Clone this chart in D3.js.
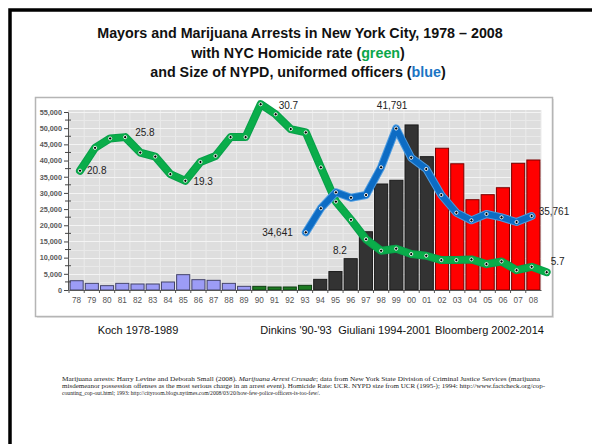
<!DOCTYPE html>
<html><head><meta charset="utf-8">
<script src="https://cdn.jsdelivr.net/npm/d3@7"></script>
<style>body{margin:0;background:#fff}svg{display:block}</style>
</head><body>
<svg id="c" width="592" height="444"></svg>
<script>
// ---- data ----
const years = ["78","79","80","81","82","83","84","85","86","87","88","89","90","91","92","93","94","95","96","97","98","99","00","01","02","03","04","05","06","07","08"];
const arrests = [2870,2060,1340,2060,1850,1850,2470,4740,3190,2990,2060,1130,1130,930,930,1440,3290,5700,9680,18000,32750,33900,51000,41200,43800,39000,27900,29450,31600,39150,40170];
const mayorNames = ["Koch 1978-1989","Dinkins '90-'93","Giuliani 1994-2001","Bloomberg 2002-2014"];
const mayorFirstYear = ["78","90","94","02"];
const homicideYears = d3.range(1978, 2010);
const homicide = [20.8,24.2,25.6,25.8,23.5,22.9,20.3,19.3,22.1,23.0,25.8,25.8,30.7,29.2,27.0,26.5,21.3,16.2,13.5,10.6,8.9,9.2,8.4,8.15,7.5,7.5,7.6,6.9,7.3,6.0,6.5,5.7];
const nypdYears = d3.range(1993, 2009);
const nypd = [34641,36294,37396,37024,37210,39118,41791,39779,39001,37210,35991,35467,35901,35674,35350,35761];
const yTicks = d3.range(0, 55001, 5000);
const annotations = [
  {text:"20.8", s:"h", year:1978, dx:7, dy:3.5, anchor:"start"},
  {text:"25.8", s:"h", year:1981, dx:10, dy:-1, anchor:"start"},
  {text:"19.3", s:"h", year:1985, dx:8, dy:4.5, anchor:"start"},
  {text:"30.7", s:"h", year:1990, dx:18, dy:4.5, anchor:"start"},
  {text:"8.2",  s:"h", year:1995, dx:4, dy:52, anchor:"middle"},
  {text:"34,641", s:"p", year:1993, dx:-13, dy:3.5, anchor:"end"},
  {text:"41,791", s:"p", year:1999, dx:-4, dy:-19, anchor:"middle"},
  {text:"35,761", s:"p", year:2008, dx:7, dy:-1.5, anchor:"start"},
  {text:"5.7", s:"h", year:2009, dx:4, dy:-7.5, anchor:"start"}
];
const footnote = [
  [{t:"Marijuana arrests: Harry Levine and Deborah Small (2008). "},{t:"Marijuana Arrest Crusade",i:true},{t:"; data from New York State Division of Criminal Justice Services (marijuana"}],
  [{t:"misdemeanor possession offenses as the most serious charge in an arrest event). Homicide Rate: UCR. NYPD size from UCR (1995-); 1994: http://www.factcheck.org/cop-"}],
  [{t:"counting_cop-out.html; 1993: http://cityroom.blogs.nytimes.com/2008/03/20/how-few-police-officers-is-too-few/."}]
];

// ---- styles ----
const mayorFill = ["#9c9cf6","#1d7a22","#333333","#ff0000"];
const mayorStroke = ["#44446a","#0f3d12","#1a1a1a","#7a0000"];
const svg = d3.select("#c");
const sans = "'Liberation Sans', Arial, sans-serif";

// outer frame
svg.append("path").attr("d","M10,444 L10,10 L592,10").attr("fill","none").attr("stroke","#000").attr("stroke-width",3.5);

// title
const title = svg.append("g").attr("font-family",sans).attr("font-weight","bold").attr("font-size",14.3).attr("text-anchor","middle").attr("fill","#111");
title.append("text").attr("x",300).attr("y",38).text("Mayors and Marijuana Arrests in New York City, 1978 \u2013 2008");
const t2 = title.append("text").attr("x",298).attr("y",57.5);
t2.append("tspan").text("with NYC Homicide rate (");
t2.append("tspan").attr("fill","#0aa64a").text("green");
t2.append("tspan").text(")");
const t3 = title.append("text").attr("x",298).attr("y",77);
t3.append("tspan").text("and Size of NYPD, uniformed officers (");
t3.append("tspan").attr("fill","#1b75c4").text("blue");
t3.append("tspan").text(")");

// panel
svg.append("rect").attr("x",37).attr("y",99).attr("width",517).attr("height",219).attr("fill","#e6e6e6");
svg.append("rect").attr("x",35.5).attr("y",97.5).attr("width",517).attr("height",219).attr("fill","#fff").attr("stroke","#b5b5b5").attr("stroke-width",1.5);

// scales
const x = d3.scaleBand().domain(years).range([69,541]).paddingInner(0.14).paddingOuter(0.07);
const y = d3.scaleLinear().domain([0,55000]).range([290,112]);
const xl = d3.scaleLinear().domain([1978,2009]).range([80,546.7]);
const yh = d3.scaleLinear().domain([0,35]).range([310.5,75.3]);
const yp = d3.scaleLinear().domain([30000,45000]).range([299.7,81.9]);

// plot background
svg.append("rect").attr("x",68).attr("y",110).attr("width",473).attr("height",180).attr("fill","#dedede");
// vertical grid
const step = x.step();
svg.append("g").selectAll("line").data(years).join("line")
  .attr("x1",d=>x(d)+x.bandwidth()+step*0.07).attr("x2",d=>x(d)+x.bandwidth()+step*0.07)
  .attr("y1",110).attr("y2",290).attr("stroke","#ebebeb").attr("stroke-width",1);
// horizontal grid
svg.append("g").selectAll("line").data(d3.range(2500,55001,2500)).join("line")
  .attr("x1",68).attr("x2",541).attr("y1",d=>Math.round(y(d))+0.5).attr("y2",d=>Math.round(y(d))+0.5)
  .attr("stroke",(d)=>d%5000===0?"#f4f4f4":"#e9e9e9").attr("stroke-width",1.2);

// bars
const mayorIdx = i => { let m=0; mayorFirstYear.forEach((f,k)=>{ if (years.indexOf(f)<=i) m=k; }); return m; };
svg.append("g").selectAll("rect").data(arrests).join("rect")
  .attr("x",(d,i)=>x(years[i])).attr("width",x.bandwidth())
  .attr("y",d=>y(d)).attr("height",d=>y(0)-y(d))
  .attr("fill",(d,i)=>mayorFill[mayorIdx(i)]).attr("stroke",(d,i)=>mayorStroke[mayorIdx(i)]).attr("stroke-width",1);

// y axis
const yAxisG = svg.append("g").attr("transform","translate(68,0)");
yAxisG.call(d3.axisLeft(y).tickValues(yTicks).tickFormat(d3.format(",")).tickSize(4).tickPadding(2));
yAxisG.selectAll("text").attr("font-family",sans).attr("font-size",7.3).attr("font-weight","bold").attr("fill","#5a5a5a");
yAxisG.select(".domain").attr("stroke","#555");
yAxisG.selectAll(".tick line").attr("stroke","#444");
svg.append("g").selectAll("line").data(d3.range(2500,55001,5000)).join("line")
  .attr("x1",65).attr("x2",71).attr("y1",d=>y(d)).attr("y2",d=>y(d)).attr("stroke","#444");

// x axis
const xAxisG = svg.append("g").attr("transform","translate(0,290)");
xAxisG.call(d3.axisBottom(x).tickSize(0).tickPadding(7));
xAxisG.select(".domain").attr("stroke","#555");
xAxisG.selectAll("text").attr("font-family",sans).attr("font-size",8.2).attr("fill","#555");
svg.append("g").selectAll("line").data(years).join("line")
  .attr("x1",d=>x(d)-step*0.07).attr("x2",d=>x(d)-step*0.07).attr("y1",290).attr("y2",293).attr("stroke","#555");

// lines
function drawLine(xs, vals, ys, color, halo) {
  const pts = vals.map((v,i)=>[xl(xs[i]), ys(v)]);
  const line = d3.line();
  if (halo) svg.append("path").attr("d",line(pts)).attr("fill","none").attr("stroke",halo).attr("stroke-width",8).attr("stroke-linejoin","round").attr("stroke-linecap","round");
  svg.append("path").attr("d",line(pts)).attr("fill","none").attr("stroke",color).attr("stroke-width",6).attr("stroke-linejoin","round").attr("stroke-linecap","round");
  svg.append("g").selectAll("circle").data(pts).join("circle")
    .attr("cx",d=>d[0]).attr("cy",d=>d[1]).attr("r",1.6).attr("fill","#000").attr("stroke","#fff").attr("stroke-width",0.9);
}
drawLine(homicideYears, homicide, yh, "#0aad4a", "#08a04a");
drawLine(nypdYears, nypd, yp, "#0d6cc4", "#4a9ae0");

// annotations
svg.append("g").selectAll("text").data(annotations).join("text")
  .attr("x",d=>xl(d.year)+d.dx)
  .attr("y",d=>(d.s==="h"? yh(homicide[homicideYears.indexOf(d.year)]) : yp(nypd[nypdYears.indexOf(d.year)]))+d.dy)
  .attr("text-anchor",d=>d.anchor).attr("font-family",sans).attr("font-size",10).attr("fill","#222")
  .text(d=>d.text);

// mayor labels
const mayorCenters = [138, 296, 384.5, 489.5];
svg.append("g").selectAll("text").data(mayorNames).join("text")
  .attr("x",(d,i)=>mayorCenters[i]).attr("y",334).attr("text-anchor","middle")
  .attr("font-family",sans).attr("font-size",11).attr("fill","#111").text(d=>d);

// footnote
const fn = svg.append("g").attr("font-family","'Liberation Serif','Times New Roman',serif").attr("font-size",6.3).attr("fill","#222");
const fnWidths = [478, 483, 258];
footnote.forEach((parts,li)=>{
  const t = fn.append("text").attr("x",62).attr("y",381 + li*7.2).attr("textLength",fnWidths[li]).attr("lengthAdjust","spacingAndGlyphs");
  parts.forEach(p=>{ const s=t.append("tspan").text(p.t); if(p.i) s.attr("font-style","italic"); });
});
</script>
</body></html>
